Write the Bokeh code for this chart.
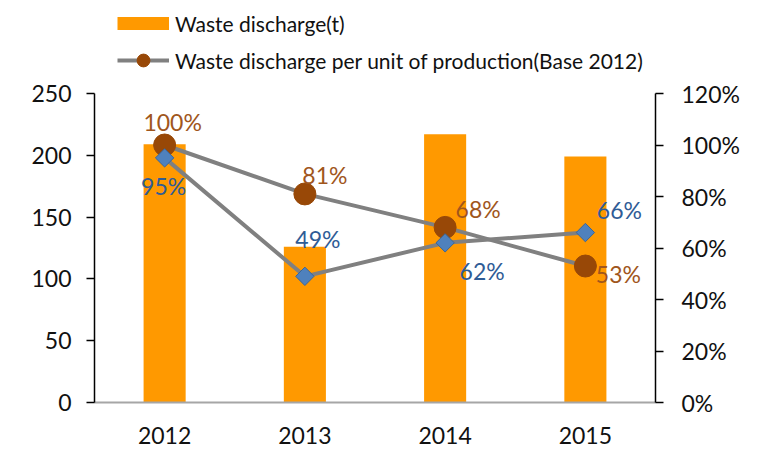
from bokeh.plotting import figure
from bokeh.models import (ColumnDataSource, Range1d, FactorRange, LinearAxis, FixedTicker,
                          NumeralTickFormatter, Legend, LegendItem)
from bokeh.core.properties import value
from bokeh.embed import file_html
from bokeh.resources import INLINE
import numpy as np

# ---------------- data ----------------
years = ["2012", "2013", "2014", "2015"]
discharge = [209, 126, 217, 199]                 # Waste discharge (t)
per_unit = [1.00, 0.81, 0.68, 0.53]              # per unit of production (Base 2012)
other_ratio = [0.95, 0.49, 0.62, 0.66]           # second (blue) series
left_ticks = [0, 50, 100, 150, 200, 250]
right_ticks = [0, 0.2, 0.4, 0.6, 0.8, 1.0, 1.2]

# label offsets (screen px) - styling only
pu_dx = [8, 20, 33, 33]
pu_dy = [-23, -19, -18, 8]
ot_dx = [-1, 13, 37, 34]
ot_dy = [28, -37, 28, -23]

FONT = "Lato"
W, H = 760, 453
FRAME_H = 402          # frame height in px (frame top at figure top)
PX_250 = 309           # pixels from 0 to 250 on the left axis

y_end = 250 * FRAME_H / PX_250
y2_end = 1.2 * FRAME_H / PX_250

src = ColumnDataSource(dict(
    year=years, discharge=discharge, per_unit=per_unit, other=other_ratio,
    pu_label=[f"{round(v*100)}%" for v in per_unit],
    ot_label=[f"{round(v*100)}%" for v in other_ratio],
    pu_dx=pu_dx, pu_dy=pu_dy, ot_dx=ot_dx, ot_dy=ot_dy,
    hidden=[np.nan] * len(years),
))

p = figure(x_range=FactorRange(*years), y_range=Range1d(0, y_end),
           width=W, height=H, output_backend="svg", toolbar_location=None,
           min_border_left=94, min_border_right=W - 655, min_border_top=0,
           min_border_bottom=H - FRAME_H)
p.extra_y_ranges = {"pct": Range1d(0, y2_end)}
p.outline_line_color = None
p.xgrid.visible = False
p.ygrid.visible = False
p.background_fill_color = "white"

# left axis
ya = p.yaxis[0]
ya.ticker = FixedTicker(ticks=left_ticks)
ya.bounds = (0, 250)
ya.axis_line_color = "black"
ya.axis_line_width = 1.5
ya.major_tick_line_color = "black"
ya.major_tick_line_width = 1.5
ya.major_tick_out = 8
ya.major_tick_in = 0
ya.minor_tick_line_color = None
ya.major_label_standoff = 15
ya.major_label_text_font = FONT
ya.major_label_text_font_size = "23px"
ya.major_label_text_color = "#111111"

# right axis
ra = LinearAxis(y_range_name="pct", ticker=FixedTicker(ticks=right_ticks),
                formatter=NumeralTickFormatter(format="0%"))
ra.bounds = (0, 1.2)
ra.axis_line_color = "black"
ra.axis_line_width = 1.5
ra.major_tick_line_color = "black"
ra.major_tick_line_width = 1.5
ra.major_tick_out = 8
ra.major_tick_in = 0
ra.minor_tick_line_color = None
ra.major_label_standoff = 18
ra.major_label_text_font = FONT
ra.major_label_text_font_size = "23px"
ra.major_label_text_color = "#111111"
p.add_layout(ra, "right")

# bottom axis
xa = p.xaxis[0]
xa.axis_line_color = "#A6A6A6"
xa.axis_line_width = 2
xa.major_tick_line_color = None
xa.major_tick_out = 0
xa.minor_tick_line_color = None
xa.major_label_standoff = 24
xa.major_label_text_font = FONT
xa.major_label_text_font_size = "23px"
xa.major_label_text_color = "#111111"

# bars
p.vbar(x="year", top="discharge", width=0.3, source=src,
       fill_color="#FF9900", line_color=None)

# per-unit series (circles)
r_pu_line = p.line(x="year", y="per_unit", source=src, y_range_name="pct",
                   line_color="#808080", line_width=4)
r_pu_dot = p.scatter(x="year", y="per_unit", source=src, y_range_name="pct",
                     marker="circle", size=22, fill_color="#984807",
                     line_color="#984807")

# second series (diamonds)
p.line(x="year", y="other", source=src, y_range_name="pct",
       line_color="#808080", line_width=4)
p.scatter(x="year", y="other", source=src, y_range_name="pct",
          marker="square", angle=np.pi / 4, size=13,
          fill_color="#4F81BD", line_color="#3A6699", line_width=1)

# data labels
p.text(x="year", y="per_unit", text="pu_label", source=src, y_range_name="pct",
       x_offset="pu_dx", y_offset="pu_dy", text_align="center",
       text_baseline="middle", text_font=value(FONT), text_font_size=value("23px"),
       text_color="#A0561C")
p.text(x="year", y="other", text="ot_label", source=src, y_range_name="pct",
       x_offset="ot_dx", y_offset="ot_dy", text_align="center",
       text_baseline="middle", text_font=value(FONT), text_font_size=value("23px"),
       text_color="#2F5C96")

# legend: a thick line with no drawable points stands for the bar swatch
r_swatch = p.line(x="year", y="hidden", source=src, y_range_name="pct",
                  line_color="#FF9900", line_width=13, line_cap="butt")
LEG_H = 32 + 5 + 32
legend = Legend(items=[
    LegendItem(label="Waste discharge(t)", renderers=[r_swatch]),
    LegendItem(label="Waste discharge per unit of production(Base 2012)",
               renderers=[r_pu_line, r_pu_dot]),
], location=(23, FRAME_H - 7 - LEG_H), padding=0, margin=0, spacing=5,
   glyph_width=52, glyph_height=32, label_standoff=6,
   label_text_font=FONT, label_text_font_size="21px", label_text_color="#111111",
   border_line_color=None, background_fill_alpha=0)
p.add_layout(legend)

open("out.html", "w").write(file_html(p, INLINE))
